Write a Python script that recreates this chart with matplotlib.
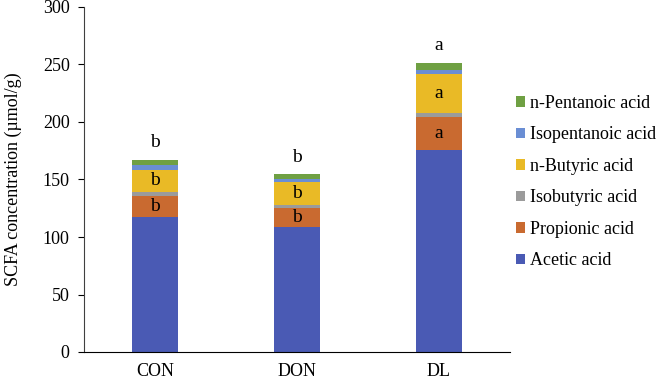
import matplotlib
matplotlib.use("Agg")
import matplotlib.pyplot as plt
import numpy as np

plt.rcParams['font.family'] = ['Liberation Serif', 'DejaVu Serif']

groups = ["CON", "DON", "DL"]
series_names = ["Acetic acid", "Propionic acid", "Isobutyric acid",
                "n-Butyric acid", "Isopentanoic acid", "n-Pentanoic acid"]
acetic = [117.6, 108.4, 175.7]
propionic = [18.1, 17.1, 28.6]
isobutyric = [3.7, 2.3, 3.2]
butyric = [19.0, 19.7, 34.2]
isopentanoic = [3.8, 2.7, 3.5]
pentanoic = [4.9, 4.3, 6.4]
colors = ["#4A5AB4", "#C96A30", "#9B9B9B", "#E9BA26", "#6A8ED4", "#6FA043"]
top_letters = ["b", "b", "a"]
propionic_letters = ["b", "b", "a"]
butyric_letters = ["b", "b", "a"]

data = [acetic, propionic, isobutyric, butyric, isopentanoic, pentanoic]

fig = plt.figure(figsize=(6.57, 3.81), dpi=100)
ax = fig.add_axes([84/657, 29/381, (510-84)/657, 345/381])

x = np.arange(len(groups))
width = 0.33
bottom = np.zeros(len(groups))
handles = []
for vals, name, c in zip(data, series_names, colors):
    h = ax.bar(x, vals, width, bottom=bottom, color=c, label=name, linewidth=0)
    handles.append(h)
    bottom = bottom + np.array(vals)
totals = bottom

fs = 13
lfs = 14
for i in range(len(groups)):
    ax.text(x[i], totals[i] + 11, top_letters[i], ha='center', va='baseline', fontsize=lfs)
    pb = acetic[i]
    ax.text(x[i], pb + propionic[i] / 2, propionic_letters[i], ha='center', va='center', fontsize=lfs)
    bb = acetic[i] + propionic[i] + isobutyric[i]
    ax.text(x[i], bb + butyric[i] / 2, butyric_letters[i], ha='center', va='center', fontsize=lfs)

ax.set_xlim(-0.5, 2.5)
ax.set_ylim(0, 300)
ax.set_yticks(np.arange(0, 301, 50))
ax.set_xticks(x)
ax.set_xticklabels(groups, fontsize=fs)
ax.tick_params(axis='x', length=0, pad=8)
ax.tick_params(axis='y', length=4.3, direction='out', labelsize=fs, pad=6)
for s in ['top', 'right']:
    ax.spines[s].set_visible(False)
ax.spines['left'].set_color('#404040')
ax.set_ylabel("SCFA concentration (µmol/g)", fontsize=fs)
ax.yaxis.set_label_coords(-62/426, 0.5)

leg = fig.legend(handles[::-1], series_names[::-1], loc='upper left',
                 bbox_to_anchor=(516/657, 1 - 95/381), frameon=False,
                 fontsize=fs, handlelength=0.5, handleheight=0.5,
                 handletextpad=0.25, labelspacing=0.8, borderaxespad=0,
                 borderpad=0)

fig.savefig("out.png", dpi=100)
